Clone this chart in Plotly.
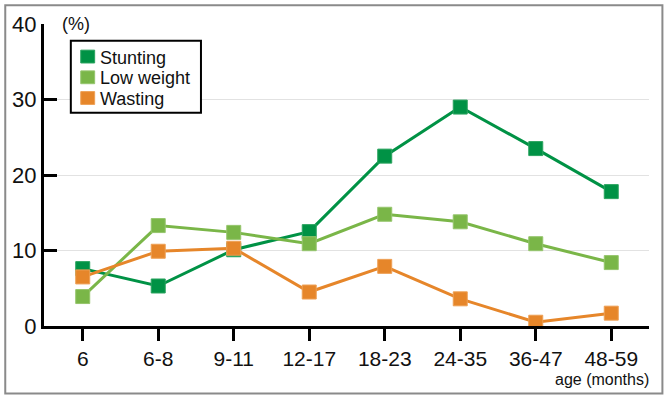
import plotly.graph_objects as go

categories = ["6", "6-8", "9-11", "12-17", "18-23", "24-35", "36-47", "48-59"]
stunting = [7.6, 5.3, 10.1, 12.5, 22.5, 29.0, 23.5, 17.8]
low_weight = [3.9, 13.3, 12.4, 10.9, 14.8, 13.8, 10.9, 8.4]
wasting = [6.5, 9.9, 10.3, 4.5, 7.9, 3.6, 0.5, 1.7]
y_ticks = [0, 10, 20, 30, 40]

series = [
    ("Stunting", stunting, "#009245", "#2aa35f"),
    ("Low weight", low_weight, "#7ab648", "#95c56c"),
    ("Wasting", wasting, "#e6862a", "#eea055"),
]

W, H = 664, 396
ML, MR, MT, MB = 40, 15, 20, 70
PW, PH = W - ML - MR, H - MT - MB


def px(xp):
    return (xp - ML) / PW


def py(yp):
    return (H - MB - yp) / PH


xs = list(range(len(categories)))
fig = go.Figure()
for name, vals, col, edge in series:
    fig.add_trace(go.Scatter(
        x=xs, y=vals, mode="lines+markers", name=name, showlegend=False,
        line=dict(color=col, width=3),
        marker=dict(symbol="square", size=14, color=col, line=dict(color=edge, width=1)),
    ))

shapes = [
    dict(type="rect", xref="paper", yref="paper",
         x0=px(1), x1=px(662.5), y0=py(394.5), y1=py(1),
         line=dict(color="#8a8a8a", width=2), layer="below"),
    dict(type="rect", xref="paper", yref="paper",
         x0=px(67), x1=px(198), y0=py(110), y1=py(37),
         line=dict(color="black", width=2), fillcolor="white", layer="above"),
]
annotations = [
    dict(text="(%)", xref="paper", yref="paper", x=px(56), y=py(20),
         xanchor="left", yanchor="middle", showarrow=False,
         font=dict(size=18, color="#111"), bgcolor="white", borderpad=1),
    dict(text="age (months)", xref="paper", yref="paper", x=px(651), y=py(380),
         xanchor="right", yanchor="middle", showarrow=False,
         font=dict(size=16, color="#111")),
]
row_y = [53, 74, 95]
for (name, vals, col, edge), ry in zip(series, row_y):
    shapes.append(dict(type="rect", xref="paper", yref="paper",
                       x0=px(77), x1=px(91), y0=py(ry + 6.5), y1=py(ry - 6.5),
                       line=dict(color=edge, width=1), fillcolor=col, layer="above"))
    annotations.append(dict(text=name, xref="paper", yref="paper",
                            x=px(94), y=py(ry + 1), xanchor="left", yanchor="middle",
                            showarrow=False, font=dict(size=18, color="#111")))

fig.update_layout(
    width=W, height=H,
    margin=dict(l=ML, r=MR, t=MT, b=MB),
    paper_bgcolor="white", plot_bgcolor="white",
    font=dict(family="Liberation Sans, Arial, sans-serif", color="#111"),
    showlegend=False,
    hovermode=False,
    xaxis=dict(
        range=[-0.513, 7.5], tickmode="array", tickvals=xs, ticktext=categories,
        showline=True, linecolor="black", linewidth=3,
        ticks="outside", ticklen=12, tickwidth=3, tickcolor="black",
        tickfont=dict(size=21), showgrid=False, zeroline=False,
    ),
    yaxis=dict(
        range=[0, 40], tickmode="array", tickvals=y_ticks,
        showline=True, linecolor="black", linewidth=3,
        ticks="inside", ticklen=13, tickwidth=3, tickcolor="black",
        tickfont=dict(size=22), showgrid=True, gridcolor="#e2e2e2", gridwidth=1,
        zeroline=False,
    ),
    annotations=annotations,
    shapes=shapes,
)

fig.write_html("out.html", config={"displayModeBar": False},
               post_script="document.body.style.margin='0';")
